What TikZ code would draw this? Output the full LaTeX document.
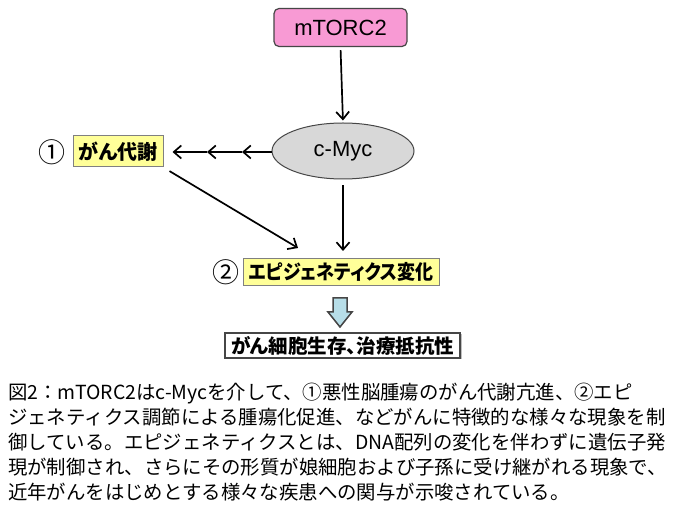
\documentclass[tikz,border=0pt]{standalone}
\usepackage{fontspec}
\setmainfont{Liberation Sans}
\newfontfamily\jp{Noto Sans CJK JP}[RawFeature=+palt]
\newfontfamily\jpn{Noto Sans CJK JP}[RawFeature=+palt,FakeStretch=0.9]
\newfontfamily\jpfull{Noto Sans CJK JP}
\usetikzlibrary{arrows.meta,shapes.geometric,shadows}
\definecolor{rosa}{RGB}{248,154,212}
\definecolor{amarillo}{RGB}{255,255,153}
\definecolor{grisclaro}{RGB}{216,216,216}
\definecolor{celeste}{RGB}{183,222,232}
\definecolor{borde}{RGB}{70,70,70}
\begin{document}
\begin{tikzpicture}[x=1pt,y=-1pt,
    flecha/.style={line width=1.7pt,-{Straight Barb[length=7.5pt,width=13pt]}},
    caja/.style={draw=gray,line width=1pt,fill=amarillo,inner sep=0pt,
        font=\jp\bfseries\fontsize{20}{24}\selectfont},
    numero/.style={inner sep=0pt,font=\jpfull\fontsize{27}{27}\selectfont}]
    \useasboundingbox[fill=white] (0,0) rectangle (680,510);
    % Nodos del esquema: mTORC2 arriba, c-Myc en el centro.
    \node[draw=borde,line width=1.2pt,fill=rosa,rounded corners=5pt,
        minimum width=133pt,minimum height=38pt,font=\fontsize{22}{26}\selectfont]
        (mtorc) at (340.5,27.5) {mTORC2};
    \node[ellipse,draw=borde,line width=1pt,fill=grisclaro,
        minimum width=142pt,minimum height=56pt,font=\fontsize{22}{26}\selectfont]
        (cmyc) at (343,151) {c-Myc};
    \node[caja,minimum width=90pt,minimum height=31pt] (metab) at (118,151.5) {がん代謝};
    \node[numero] (num1) at (52,152) {①};
    \node[caja,font=\jpn\bfseries\fontsize{20}{24}\selectfont,
        minimum width=196pt,minimum height=27pt] (epi) at (341,272) {エピジェネティクス変化};
    \node[numero] (num2) at (226,272) {②};
    \node[caja,draw=borde,line width=1.5pt,fill=white,font=\jp\bfseries\fontsize{19.5}{24}\selectfont,
        drop shadow={shadow xshift=1.5pt,shadow yshift=-1.5pt,opacity=.5},
        minimum width=235pt,minimum height=25pt] (surv) at (342.5,345.5) {がん細胞生存、治療抵抗性};
    % Flechas entre los nodos.
    \coordinate (t1) at (242,152);
    \coordinate (t2) at (207,152);
    \coordinate (epiin) at (298,248);
    \draw[flecha,shorten <=3pt,shorten >=2pt] (mtorc.south) -- (cmyc.north);
    \draw[flecha] (cmyc.west |- t1) -- (t1);
    \draw[flecha] (t1) -- (t2);
    \draw[flecha,shorten >=9pt] (t2) -- (metab.east |- t2);
    \draw[flecha,shorten <=7pt] (metab.south east) -- (epiin);
    \draw[flecha,shorten <=6pt,shorten >=7pt] (cmyc.south) -- (cmyc.south |- epi.north);
    % Flecha ancha hacia el resultado.
    \draw[borde,line width=1.5pt,fill=celeste,line join=miter]
        (333,298) -- (347,298) -- (347,312) -- (352,312) -- (340,327)
        -- (328,312) -- (333,312) -- cycle;
    % Pie de figura.
    \node[anchor=north west,align=left,inner sep=0pt,
        font=\jpfull\fontsize{19.4}{25}\selectfont] (pie) at (8,383)
        {図2：mTORC2はc-Mycを介して、①悪性脳腫瘍のがん代謝亢進、②エピ\\
        ジェネティクス調節による腫瘍化促進、などがんに特徴的な様々な現象を制\\
        御している。エピジェネティクスとは、DNA配列の変化を伴わずに遺伝子発\\
        現が制御され、さらにその形質が娘細胞および子孫に受け継がれる現象で、\\
        近年がんをはじめとする様々な疾患への関与が示唆されている。};
\end{tikzpicture}
\end{document}
